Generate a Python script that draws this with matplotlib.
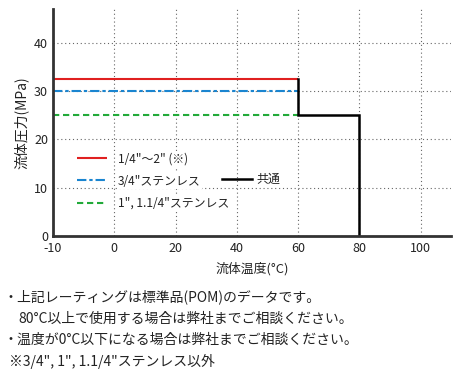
import numpy as np
import matplotlib
matplotlib.use('Agg')
import matplotlib.pyplot as plt

plt.rcParams['font.family'] = ['Noto Sans CJK JP', 'DejaVu Sans']
plt.rcParams['axes.unicode_minus'] = False

# data
temp_std = [-10, 60]
p_std = [32.5, 32.5]          # 1/4"~2"
p_34 = [30, 30]               # 3/4" stainless
p_1 = [25, 25]                # 1", 1.1/4" stainless
temp_common = [60, 60, 80, 80]
p_common = [32.5, 25, 25, 0]

xticks = [-10, 0, 20, 40, 60, 80, 100]
yticks = [0, 10, 20, 30, 40]

labels = ['1/4"～2" (※)', '3/4"ステンレス', '1", 1.1/4"ステンレス']
common_label = '共通'

notes = [
    '・上記レーティングは標準品(POM)のデータです。',
    '80°C以上で使用する場合は弊社までご相談ください。',
    '・温度が0°C以下になる場合は弊社までご相談ください。',
    '※3/4", 1", 1.1/4"ステンレス以外',
]
note_x = [0.007, 0.039, 0.007, 0.02]


# axis below 0 is drawn at double scale
def fwd(x):
    x = np.asarray(x, dtype=float)
    return np.where(x < 0, 2 * x, x)


def inv(x):
    x = np.asarray(x, dtype=float)
    return np.where(x < 0, x / 2, x)


fig = plt.figure(figsize=(4.62, 3.8), dpi=100)
ax = fig.add_axes([0.1147, 0.379, 0.862, 0.597])
ax.set_xscale('function', functions=(fwd, inv))

l1, = ax.plot(temp_std, p_std, color='#e02020', lw=1.5, solid_capstyle='butt')
l2, = ax.plot(temp_std, p_34, color='#1a85d0', lw=1.5, dashes=(4.5, 1.4, 1.6, 1.4))
l3, = ax.plot(temp_std, p_1, color='#22aa3a', lw=1.5, dashes=(3, 1.8))
l4, = ax.plot(temp_common, p_common, color='black', lw=1.8, solid_joinstyle='miter')

ax.set_xlim(-10, 110)
ax.set_ylim(0, 47)
ax.set_xticks(xticks)
ax.set_yticks(yticks)
ax.tick_params(length=0, labelsize=9, colors='#222')
ax.tick_params(axis='x', pad=4.5)
ax.tick_params(axis='y', pad=3.5)
ax.grid(True, color='#666', linestyle=(0, (1, 2.5)), lw=0.8)
ax.set_axisbelow(True)
for s in ['top', 'right']:
    ax.spines[s].set_visible(False)
for s in ['left', 'bottom']:
    ax.spines[s].set_color('#333')
    ax.spines[s].set_linewidth(2)

ax.set_xlabel('流体温度(°C)', fontsize=9.3, color='#222', labelpad=5)
ax.set_ylabel('流体圧力(MPa)', fontsize=10, color='#222', labelpad=4)

leg = ax.legend([l1, l2, l3], labels, loc='upper left', bbox_to_anchor=(0.048, 0.39),
                frameon=False, fontsize=8.6, handlelength=2.5, handletextpad=0.95,
                labelspacing=0.78, borderaxespad=0)
for t in leg.get_texts():
    t.set_color('#222')
    t.set_bbox(dict(facecolor='white', edgecolor='none', pad=1))
ax.add_artist(leg)
leg2 = ax.legend([l4], [common_label], loc='upper left', bbox_to_anchor=(0.412, 0.3),
                 frameon=False, fontsize=8.6, handlelength=2.5, handletextpad=0.4,
                 borderaxespad=0)
for t in leg2.get_texts():
    t.set_color('#222')

for i, n in enumerate(notes):
    fig.text(note_x[i], 0.218 - i * 0.056, n, fontsize=10, color='#222', va='center')

fig.savefig('out.png', dpi=100)
